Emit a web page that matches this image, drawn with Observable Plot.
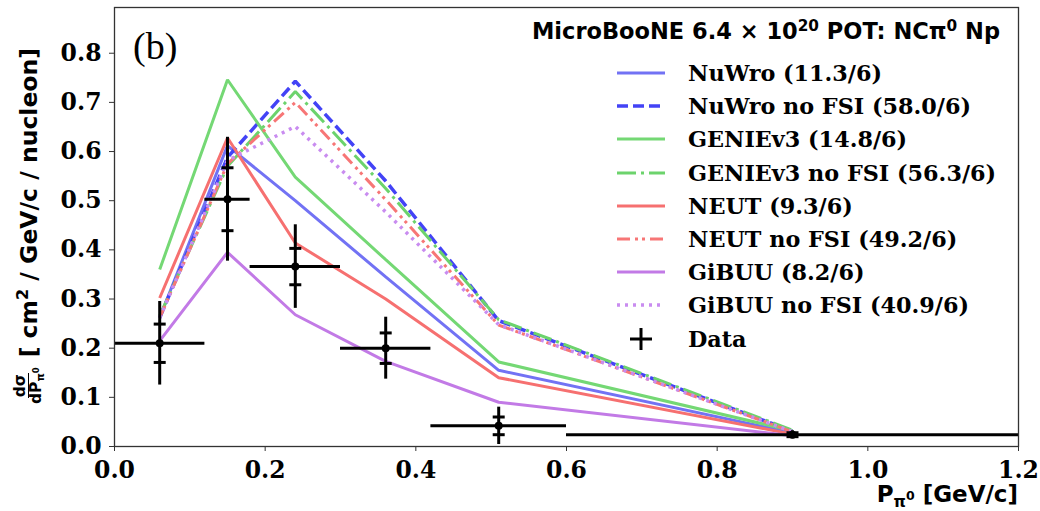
<!DOCTYPE html>
<html>
<head>
<meta charset="utf-8">
<script src="https://cdn.jsdelivr.net/npm/d3@7"></script>
<script src="https://cdn.jsdelivr.net/npm/@observablehq/plot@0.6"></script>
<style>
  html, body { margin: 0; padding: 0; background: #fff; }
  #wrap { position: relative; width: 1040px; height: 511px; overflow: hidden; }
  .ov { position: absolute; white-space: nowrap; color: #000; }
  .sans { font-family: "DejaVu Sans", sans-serif; font-weight: bold; }
  .serif { font-family: "DejaVu Serif", serif; font-weight: bold; }
  sup.s { font-size: 0.68em; vertical-align: 0.55em; line-height: 0; }
  sub.s { font-size: 0.68em; vertical-align: -0.3em; line-height: 0; }
  .row { position: absolute; height: 30px; display: flex; align-items: center; }
</style>
</head>
<body>
<div id="wrap"></div>
<script>
// ---------- data ----------
const binCenters = [0.06, 0.15, 0.24, 0.36, 0.51, 0.90];
const binLow     = [0.00, 0.12, 0.18, 0.30, 0.42, 0.60];
const binHigh    = [0.12, 0.18, 0.30, 0.42, 0.60, 1.20];
const dataValues = [0.210, 0.503, 0.366, 0.200, 0.042, 0.024];
const statErr    = [0.039, 0.064, 0.037, 0.031, 0.018, 0.004];
const totalErr   = [0.085, 0.126, 0.085, 0.063, 0.038, 0.008];

const nuwro        = [0.262, 0.612, 0.500, 0.345, 0.155, 0.028];
const nuwroNoFSI   = [0.262, 0.588, 0.743, 0.540, 0.256, 0.031];
const genie        = [0.360, 0.746, 0.548, 0.380, 0.172, 0.032];
const genieNoFSI   = [0.266, 0.570, 0.722, 0.525, 0.258, 0.033];
const neut         = [0.302, 0.628, 0.414, 0.300, 0.140, 0.025];
const neutNoFSI    = [0.262, 0.575, 0.700, 0.502, 0.247, 0.030];
const gibuu        = [0.215, 0.395, 0.268, 0.173, 0.090, 0.022];
const gibuuNoFSI   = [0.262, 0.582, 0.651, 0.477, 0.248, 0.030];

const seriesLabels = [
  "NuWro (11.3/6)", "NuWro no FSI (58.0/6)",
  "GENIEv3 (14.8/6)", "GENIEv3 no FSI (56.3/6)",
  "NEUT (9.3/6)", "NEUT no FSI (49.2/6)",
  "GiBUU (8.2/6)", "GiBUU no FSI (40.9/6)"
];
const seriesValues = [nuwro, nuwroNoFSI, genie, genieNoFSI, neut, neutNoFSI, gibuu, gibuuNoFSI];
const seriesColors = ["#7272f4", "#4343f6", "#74d874", "#6cd36c", "#f67070", "#f77676", "#c27ae6", "#c98cf0"];
const seriesDash   = [null, "11,5", null, "19,5,3,5", null, "13,5,3,4,3,5", null, "3,5"];
const seriesWidth  = [3, 3.5, 3, 3, 3, 3, 3, 3.5];
const xTicks = [0.0, 0.2, 0.4, 0.6, 0.8, 1.0, 1.2];
const yTicks = [0.0, 0.1, 0.2, 0.3, 0.4, 0.5, 0.6, 0.7, 0.8];

// ---------- tables ----------
const dataTable = binCenters.map((x, i) => ({
  x, lo: binLow[i], hi: binHigh[i], v: dataValues[i], st: statErr[i], tot: totalErr[i]
}));
const capTable = dataTable.flatMap(d => [{x: d.x, y: d.v + d.st}, {x: d.x, y: d.v - d.st}]);

const capSymbol = {
  draw(ctx, size) {
    const h = Math.sqrt(size / Math.PI);
    ctx.moveTo(-h, 0); ctx.lineTo(h, 0);
  }
};

const lineMarks = seriesValues.map((vals, k) =>
  Plot.line(binCenters.map((x, i) => ({x, y: vals[i]})), {
    x: "x", y: "y",
    stroke: seriesColors[k],
    strokeWidth: seriesWidth[k],
    strokeDasharray: seriesDash[k] || undefined,
    strokeLinejoin: "miter",
    strokeLinecap: "butt"
  })
);

const chart = Plot.plot({
  width: 1040, height: 511,
  marginLeft: 114, marginRight: 22, marginTop: 7, marginBottom: 65,
  style: { fontFamily: "DejaVu Serif, serif", fontWeight: "bold", fontSize: "23.5px", color: "#000", background: "transparent" },
  x: { domain: [0, 1.2] },
  y: { domain: [0, 0.893] },
  marks: [
    ...lineMarks,
    Plot.ruleY(dataTable, { x1: "lo", x2: "hi", y: "v", stroke: "#000", strokeWidth: 3 }),
    Plot.ruleX(dataTable, { x: "x", y1: d => d.v - d.tot, y2: d => d.v + d.tot, stroke: "#000", strokeWidth: 3 }),
    Plot.dot(capTable, { x: "x", y: "y", symbol: capSymbol, r: 6, stroke: "#000", strokeWidth: 3, fill: "none" }),
    Plot.dot(dataTable, { x: "x", y: "v", r: 4, fill: "#000", stroke: "none" }),
    Plot.axisX({ ticks: xTicks, tickFormat: d3.format(".1f"), tickSize: 5, tickPadding: 10, label: null, stroke: "#333" }),
    Plot.axisY({ ticks: yTicks, tickFormat: d3.format(".1f"), tickSize: 5, tickPadding: 8, label: null, stroke: "#333" }),
    Plot.frame({ stroke: "#333", strokeWidth: 1.3 })
  ]
});

const wrap = document.getElementById("wrap");
wrap.appendChild(chart);

function add(html, cls, css) {
  const d = document.createElement("div");
  d.className = "ov " + cls;
  d.innerHTML = html;
  Object.assign(d.style, css);
  wrap.appendChild(d);
  return d;
}

// panel tag
add("(b)", "", { left: "133px", top: "24px", fontFamily: "'Liberation Serif', serif", fontSize: "38px", lineHeight: "44px" });

// legend title
add('MicroBooNE 6.4 × 10<sup class="s">20</sup> POT: NCπ<sup class="s">0</sup> Np', "sans",
  { right: "40px", top: "16px", fontSize: "22.5px", lineHeight: "30px" });

// legend rows
const rowCenters0 = 73, rowStep = 33.2;
seriesLabels.forEach((lab, k) => {
  const cy = rowCenters0 + k * rowStep;
  const dash = seriesDash[k] ? `stroke-dasharray="${seriesDash[k]}"` : "";
  add(`<svg width="50" height="12" style="margin-right:21px"><line x1="0" y1="6" x2="48" y2="6" stroke="${seriesColors[k]}" stroke-width="${seriesWidth[k]}" ${dash}/></svg><span>${lab}</span>`,
    "row serif", { left: "617px", top: (cy - 15) + "px", fontSize: "22.3px" });
});
{
  const cy = rowCenters0 + 8 * rowStep;
  add(`<svg width="50" height="26" style="margin-right:21px"><line x1="13" y1="13" x2="35" y2="13" stroke="#000" stroke-width="3"/><line x1="24" y1="2" x2="24" y2="24" stroke="#000" stroke-width="3"/></svg><span>Data</span>`,
    "row serif", { left: "617px", top: (cy - 15) + "px", fontSize: "22.3px" });
}

// x label
add('P<sub class="s">π<sup class="s" style="font-size:0.8em">0</sup></sub> [GeV/c]', "sans",
  { right: "22px", top: "480px", fontSize: "23px", lineHeight: "28px" });

// y label (rotated)
add(
  '<span style="display:inline-flex;flex-direction:column;align-items:center;vertical-align:middle;font-size:15.5px;line-height:15px;margin-right:10px;">' +
  '<span style="border-bottom:1.5px solid #000;padding:0 1px;">dσ</span>' +
  '<span>dP<sub class="s">π<sup class="s" style="font-size:0.8em">0</sup></sub></span></span>' +
  '<span style="vertical-align:middle">[ cm<sup class="s">2</sup> / GeV/c / nucleon]</span>',
  "sans",
  { left: (27 - 220) + "px", top: (226 - 18) + "px", width: "440px", height: "36px", lineHeight: "36px",
    textAlign: "center", fontSize: "23.5px", transform: "rotate(-90deg)", transformOrigin: "50% 50%" });
</script>
</body>
</html>
